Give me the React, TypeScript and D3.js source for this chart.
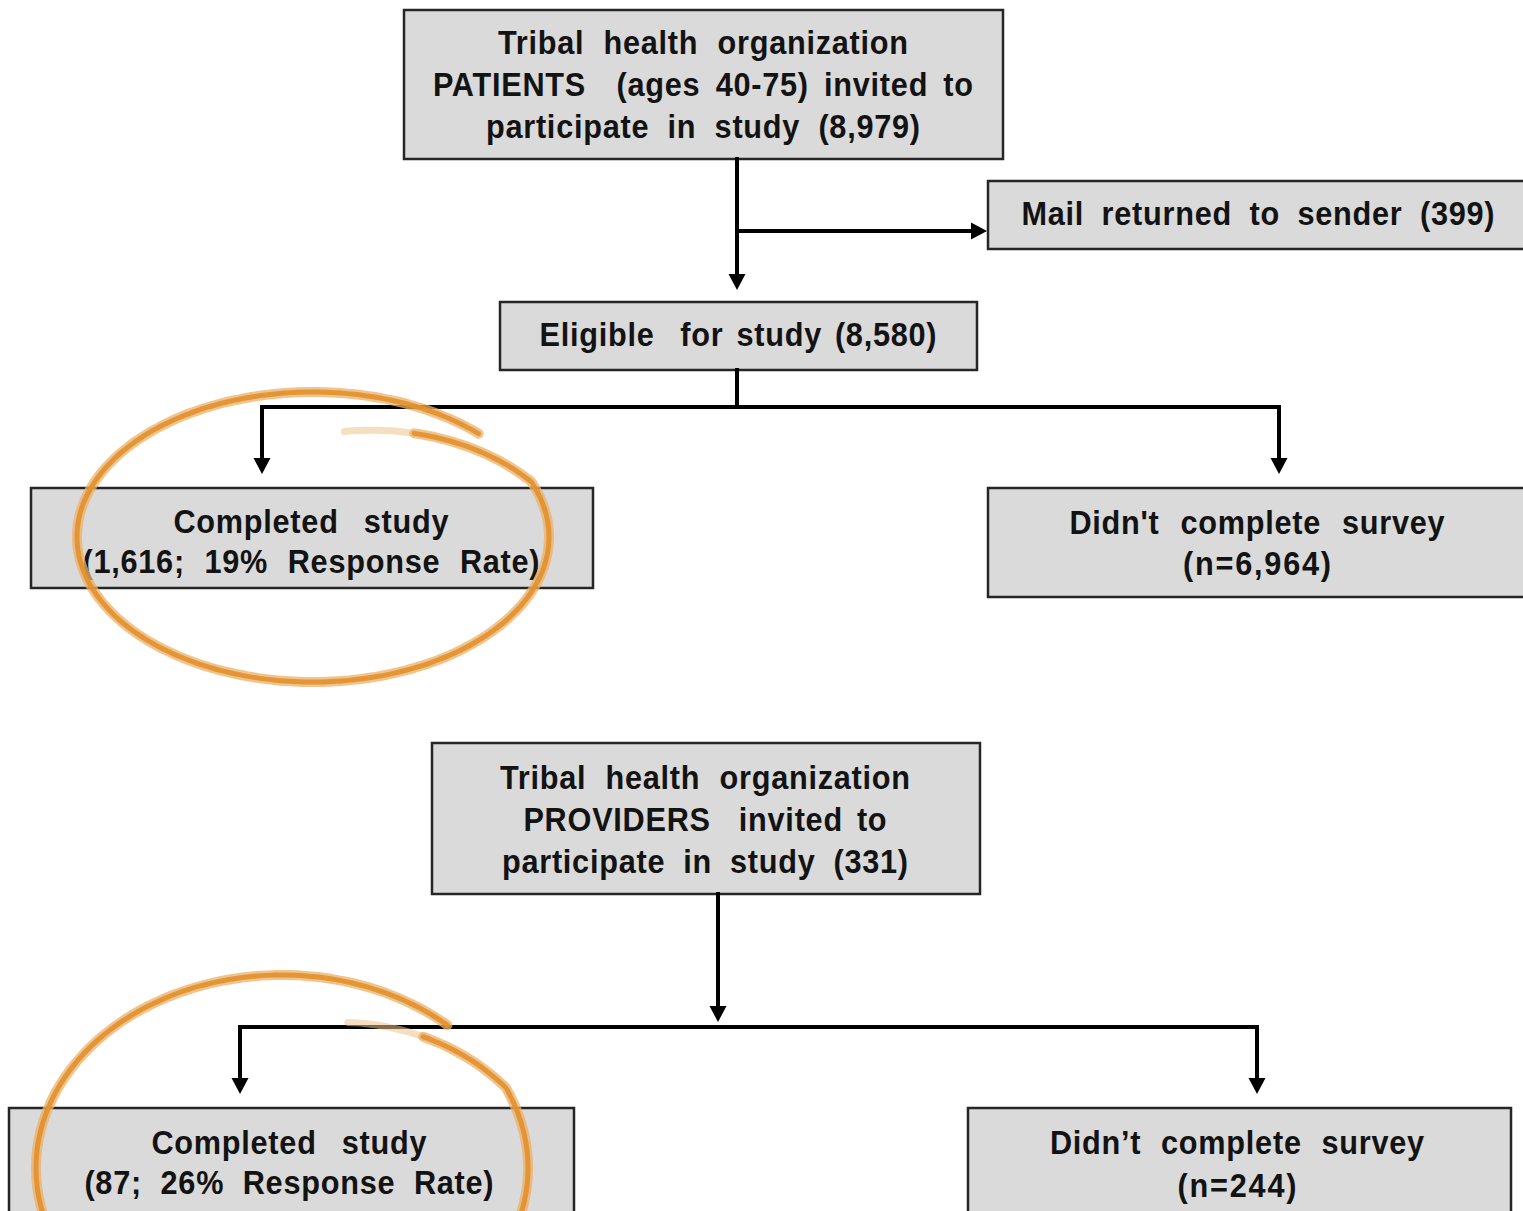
import { useRef, useEffect } from "react";
import * as d3 from "d3";

// patients flow: invited, mail returned, eligible, completed, not completed
const patientCounts = [8979, 399, 8580, 1616, 6964];
// providers flow: invited, completed, not completed
const providerCounts = [331, 87, 244];

const fmt = d3.format(",");
const pct = d3.format(".0%");

const patientsInvited = [
  "Tribal health organization",
  "PATIENTS  (ages 40-75) invited to",
  `participate in study (${fmt(patientCounts[0])})`,
];
const mailReturned = [`Mail returned to sender (${fmt(patientCounts[1])})`];
const eligible = [`Eligible  for study (${fmt(patientCounts[2])})`];
const patientsCompleted = [
  "Completed  study",
  `(${fmt(patientCounts[3])}; ${pct(patientCounts[3] / patientCounts[2])} Response Rate)`,
];
const patientsNotCompleted = ["Didn't  complete  survey", `(n=${fmt(patientCounts[4])})`];

const providersInvited = [
  "Tribal health organization",
  "PROVIDERS  invited to",
  `participate in study (${fmt(providerCounts[0])})`,
];
const providersCompleted = [
  "Completed  study",
  `(${fmt(providerCounts[1])}; ${pct(providerCounts[1] / providerCounts[0])} Response Rate)`,
];
const providersNotCompleted = ["Didn\u2019t  complete  survey", `(n=${fmt(providerCounts[2])})`];

const W = 1523;
const H = 1211;

// narrow-ish bold sans: Liberation Sans slightly squeezed, words spread out
const FONT = "'Liberation Sans', Arial, sans-serif";
const SQUEEZE = 0.93;
const LETTER = 0.8;

export default function App() {
  const ref = useRef(null);

  useEffect(() => {
    const svg = d3.select(ref.current);
    svg.selectAll("*").remove();

    const boxes = [
      { lines: patientsInvited, x: 404, y: 10, w: 599, h: 149, top: 32, gap: 42, cx: 703, widths: [411, 541, 435] },
      { lines: mailReturned, x: 988, y: 181, w: 540, h: 68, top: 32, gap: 0, cx: 1258, widths: [474] },
      { lines: eligible, x: 500, y: 302, w: 477, h: 68, top: 32, gap: 0, cx: 738, widths: [398] },
      { lines: patientsCompleted, x: 31, y: 488, w: 562, h: 100, top: 33, gap: 40, cx: 311, widths: [276, 458] },
      { lines: patientsNotCompleted, x: 988, y: 488, w: 540, h: 109, top: 34, gap: 41, cx: 1257, widths: [376, 150] },
      { lines: providersInvited, x: 432, y: 743, w: 548, h: 151, top: 34, gap: 42, cx: 705, widths: [411, 364, 407] },
      { lines: providersCompleted, x: 9, y: 1108, w: 565, h: 120, top: 34, gap: 40, cx: 289, widths: [276, 410] },
      { lines: providersNotCompleted, x: 968, y: 1108, w: 543, h: 120, top: 34, gap: 43, cx: 1237, widths: [375, 121] },
    ];

    const g = svg.append("g");

    const bg = g.selectAll("g.box").data(boxes).join("g").attr("class", "box");

    bg.append("rect")
      .attr("x", (d) => d.x)
      .attr("y", (d) => d.y)
      .attr("width", (d) => d.w)
      .attr("height", (d) => d.h)
      .attr("fill", "#dadada")
      .attr("stroke", "#262626")
      .attr("stroke-width", 2.5);

    bg.each(function (d) {
      d3.select(this)
        .selectAll("text")
        .data(d.lines)
        .join("text")
        .attr("dy", "0.36em")
        .attr("text-anchor", "middle")
        .attr("font-family", FONT)
        .attr("font-weight", "bold")
        .attr("font-size", 33)
        .attr("fill", "#131313")
        .style("white-space", "pre")
        .text((t) => t)
        .each(function (t, i) {
          // widen gaps so each line spans the width seen in the original
          const len = this.getComputedTextLength();
          const target = d.widths[i] / SQUEEZE;
          const spaces = (t.match(/ /g) || []).length;
          let ls = LETTER;
          let ws = 0;
          if (spaces) {
            ws = Math.max(-3, Math.min(16, (target - len - ls * t.length) / spaces));
          } else {
            ls = Math.max(-2, Math.min(4, (target - len) / t.length));
          }
          const y = d.y + d.top + i * d.gap;
          d3.select(this)
            .style("letter-spacing", `${ls}px`)
            .style("word-spacing", `${ws}px`)
            .attr("transform", `translate(${d.cx + (ls * SQUEEZE) / 2},${y}) scale(${SQUEEZE},1)`);
        });
    });

    // connectors
    const connectors = [
      { pts: [[737, 159], [737, 290]], arrow: true },
      { pts: [[737, 231], [987, 231]], arrow: true },
      { pts: [[737, 370], [737, 407]], arrow: false },
      { pts: [[262, 407], [1279, 407]], arrow: false },
      { pts: [[262, 407], [262, 474]], arrow: true },
      { pts: [[1279, 407], [1279, 474]], arrow: true },
      { pts: [[718, 894], [718, 1022]], arrow: true },
      { pts: [[240, 1027], [1257, 1027]], arrow: false },
      { pts: [[240, 1027], [240, 1094]], arrow: true },
      { pts: [[1257, 1027], [1257, 1094]], arrow: true },
    ];

    const line = d3.line();
    const arrowLen = 16;
    const arrowHalf = 8.5;

    connectors.forEach((c) => {
      const [p0, p1] = c.pts;
      const dx = p1[0] - p0[0];
      const dy = p1[1] - p0[1];
      const len = Math.hypot(dx, dy);
      const ux = dx / len;
      const uy = dy / len;
      const end = c.arrow ? [p1[0] - ux * (arrowLen - 2), p1[1] - uy * (arrowLen - 2)] : p1;
      g.append("path")
        .attr("d", line([p0, end]))
        .attr("stroke", "#000")
        .attr("stroke-width", 4)
        .attr("fill", "none")
        .attr("stroke-linecap", "square");
      if (c.arrow) {
        const bx = p1[0] - ux * arrowLen;
        const by = p1[1] - uy * arrowLen;
        g.append("path")
          .attr(
            "d",
            line([
              [p1[0], p1[1]],
              [bx - uy * arrowHalf, by + ux * arrowHalf],
              [bx + uy * arrowHalf, by - ux * arrowHalf],
            ]) + "Z"
          )
          .attr("fill", "#000");
      }
    });

    // hand-drawn orange loops around the "Completed study" boxes
    const loops = [
      { cx: 313, cy: 537, rx: 236, ry: 145, t0: -1.39, t1: 5.5, s0: 0.74, ramp: 1.0 },
      { cx: 282, cy: 1168, rx: 246, ry: 193, t0: -1.23, t1: 5.47, s0: 0.8, ramp: 0.8 },
    ];
    const loopLine = d3
      .line()
      .x((d) => d[0])
      .y((d) => d[1])
      .curve(d3.curveCatmullRom);

    loops.forEach((l) => {
      const pts = d3.range(l.t0, l.t1 + 0.001, 0.04).map((t) => {
        const s = l.s0 + (1 - l.s0) * Math.min(1, (t - l.t0) / l.ramp);
        return [l.cx + s * l.rx * Math.cos(t), l.cy + s * l.ry * Math.sin(t)];
      });
      const fadeN = 9;
      const faint = pts.slice(0, fadeN + 1);
      const solid = pts.slice(fadeN);
      g.append("path")
        .attr("d", loopLine(faint))
        .attr("fill", "none")
        .attr("stroke", "#efc48c")
        .attr("stroke-width", 7)
        .attr("stroke-linecap", "round")
        .attr("opacity", 0.55);
      g.append("path")
        .attr("d", loopLine(solid))
        .attr("fill", "none")
        .attr("stroke", "#ecb067")
        .attr("stroke-width", 10)
        .attr("stroke-linecap", "round")
        .attr("opacity", 0.75);
      g.append("path")
        .attr("d", loopLine(solid))
        .attr("fill", "none")
        .attr("stroke", "#e2912d")
        .attr("stroke-width", 5)
        .attr("stroke-linecap", "round")
        .attr("opacity", 0.9);
    });
  }, []);

  return (
    <div style={{ position: "absolute", left: 0, top: 0 }}>
      <svg ref={ref} width={W} height={H} style={{ display: "block", background: "#fff" }}></svg>
    </div>
  );
}
